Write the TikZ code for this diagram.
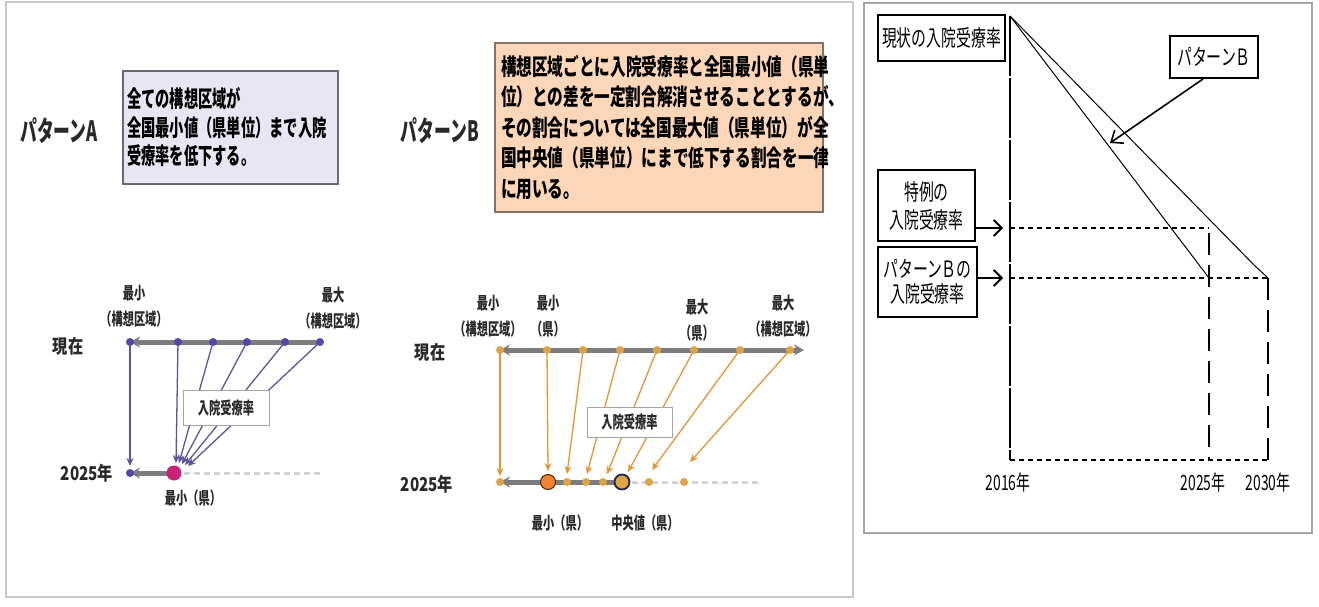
\documentclass[tikz,border=0pt]{standalone}
\usepackage{fontspec}
\newfontfamily\jpA[FakeStretch=0.62]{Noto Sans CJK JP}
\newfontfamily\jpB[FakeStretch=0.68]{Noto Sans CJK JP}
\newfontfamily\jpL[FakeStretch=0.66]{Noto Sans CJK JP}
\newfontfamily\jpT[FakeStretch=0.6]{Noto Sans CJK JP}
\newfontfamily\jpR[FakeStretch=0.66]{Noto Sans CJK JP}
\newfontfamily\jpS[FakeStretch=0.8]{Noto Sans CJK JP}
\newfontfamily\jpN{Noto Sans CJK JP}
\usetikzlibrary{arrows.meta}
\definecolor{boxAfill}{RGB}{232,230,242}
\definecolor{boxAdraw}{RGB}{105,105,115}
\definecolor{boxBfill}{RGB}{252,214,184}
\definecolor{boxBdraw}{RGB}{130,115,100}
\definecolor{barg}{RGB}{125,125,125}
\definecolor{purp}{RGB}{95,85,150}
\definecolor{purpdot}{RGB}{85,70,170}
\definecolor{mag}{RGB}{200,35,120}
\definecolor{orng}{RGB}{228,150,55}
\definecolor{orngdot}{RGB}{220,165,70}
\definecolor{orngbig}{RGB}{240,130,50}
\definecolor{navy}{RGB}{35,35,85}
\definecolor{txtg}{RGB}{40,40,40}
\definecolor{panelg}{RGB}{200,200,200}
\definecolor{panelr}{RGB}{165,165,165}
\definecolor{dashg}{RGB}{212,212,212}
\tikzset{
  lbl/.style={font=\jpL\bfseries\fontsize{17}{26}\selectfont, text=txtg, inner sep=0pt, align=center},
  side/.style={font=\jpS\bfseries\fontsize{19}{20}\selectfont, text=txtg, inner sep=0pt},
  title/.style={font=\jpT\bfseries\fontsize{28}{30}\selectfont, text=txtg, inner sep=0pt},
  bar/.style={draw=barg, line width=5pt},
  futdash/.style={draw=dashg, line width=3pt, dash pattern=on 6pt off 4pt},
  arrA/.style={draw=purp, line width=1.3pt, -{Stealth[length=8pt,width=7pt]}},
  arrB/.style={draw=orng, line width=1.3pt, -{Stealth[length=8pt,width=7pt]}},
  dotA/.style={circle, fill=purpdot, minimum size=8pt, inner sep=0pt},
  dotB/.style={circle, fill=orngdot, minimum size=8pt, inner sep=0pt},
  ratebox/.style={draw=barg!70, fill=white, line width=1pt, font=\jpL\bfseries\fontsize{17}{18}\selectfont, text=txtg, inner sep=0pt},
  rbox/.style={draw=black, line width=1.3pt, fill=white, font=\jpR\fontsize{22.5}{28}\selectfont, inner sep=0pt, align=center},
  rtxt/.style={font=\jpR\fontsize{21}{24}\selectfont, inner sep=0pt},
  hdash/.style={draw=black, line width=1.4pt, dash pattern=on 5pt off 4pt},
  vdash/.style={draw=black, line width=1.3pt, dash pattern=on 22pt off 10pt},
  barb/.style={draw=black, line width=1.8pt, -{Straight Barb[length=8pt,width=16pt]}},
}
\begin{document}
\begin{tikzpicture}[x=1pt,y=-1pt]
\useasboundingbox (0,0) rectangle (1319,607);
\fill[white] (0,0) rectangle (1319,607);
% ---------------- left panel frame
\draw[panelg, line width=1.5pt] (6,2) rectangle (853,597);
% titles and description boxes
\node[title] (tA) at (59,131) {パターンA};
\node[title] (tB) at (440,131) {パターンB};
\node[draw=boxAdraw, fill=boxAfill, line width=1.5pt, minimum width=215pt, minimum height=113pt,
      text width=207pt, align=left, inner sep=0pt, text=black,
      font=\jpA\bfseries\fontsize{23}{28.5}\selectfont] (boxA) at (230.5,127.5)
  {全ての構想区域が\\全国最小値（県単位）まで入院\\受療率を低下する。};
\node[draw=boxBdraw, fill=boxBfill, line width=1.5pt, minimum width=328pt, minimum height=169pt,
      text width=316pt, align=left, inner sep=0pt, text=black,
      font=\jpB\bfseries\fontsize{23}{30.5}\selectfont] (boxB) at (659,127.5)
  {構想区域ごとに入院受療率と全国最小値（県単\\位）との差を一定割合解消させることとするが、\\その割合については全国最大値（県単位）が全\\国中央値（県単位）にまで低下する割合を一律\\に用いる。};
% ---------------- diagram A
\coordinate (pa0) at (130,342);
\coordinate (pa1) at (178,342);
\coordinate (pa2) at (213,342);
\coordinate (pa3) at (247,342);
\coordinate (pa4) at (285,342);
\coordinate (pa5) at (320,342);
\coordinate (qa0) at (130,473);
\coordinate (qa1) at (174,473);
\coordinate (qaEnd) at (320,473);
\coordinate (ea0) at (130,466);
\coordinate (ea1) at (176,463);
\coordinate (ea2) at (179,463);
\coordinate (ea3) at (182,464);
\coordinate (ea4) at (185,465);
\coordinate (ea5) at (188,466);
\draw[futdash] (qa1) -- (qaEnd);
\draw[bar, {Stealth[length=10pt,width=11pt]}-] (pa0) -- (pa5);
\draw[bar, {Stealth[length=10pt,width=11pt]}-] (qa0) -- (qa1);
\draw[arrA] (pa0) -- (ea0);
\draw[arrA] (pa1) -- (ea1);
\draw[arrA] (pa2) -- (ea2);
\draw[arrA] (pa3) -- (ea3);
\draw[arrA] (pa4) -- (ea4);
\draw[arrA] (pa5) -- (ea5);
\node[ratebox, minimum width=86pt, minimum height=35pt] (rateA) at (226,407.5) {入院受療率};
\foreach \p in {pa0,pa1,pa2,pa3,pa4,pa5,qa0} \node[dotA] (d\p) at (\p) {};
\node[circle, fill=mag, minimum size=15pt, inner sep=0pt] (bigA) at (qa1) {};
\node[lbl] (lAmin) at (134,306) {最小\\（構想区域）};
\node[lbl] (lAmax) at (333,308) {最大\\（構想区域）};
\node[side] (nowA) at (68,346) {現在};
\node[side] (yA) at (87,473) {2025年};
\node[lbl] (lAken) at (193,498) {最小（県）};
% ---------------- diagram B
\coordinate (pb0) at (500,350);
\coordinate (pb1) at (547,350);
\coordinate (pb2) at (583,350);
\coordinate (pb3) at (620,350);
\coordinate (pb4) at (657,350);
\coordinate (pb5) at (694,350);
\coordinate (pb6) at (740,350);
\coordinate (pb7) at (790,350);
\coordinate (pbR) at (804,350);
\coordinate (qb0) at (500,482);
\coordinate (qb1) at (548,482);
\coordinate (qb2) at (567,482);
\coordinate (qb3) at (586,482);
\coordinate (qb4) at (603,482);
\coordinate (qb5) at (622,482);
\coordinate (qb6) at (649,482);
\coordinate (qb7) at (684,482);
\coordinate (qbEnd) at (762,482);
\coordinate (eb0) at (500,476);
\coordinate (eb1) at (548,471);
\coordinate (eb2) at (567,474);
\coordinate (eb3) at (587,474);
\coordinate (eb4) at (607,474);
\coordinate (eb5) at (628,472);
\coordinate (eb6) at (652,470);
\coordinate (eb7) at (690,462);
\draw[futdash] (qb5) -- (qbEnd);
\draw[bar, {Stealth[length=10pt,width=11pt]}-{Stealth[length=10pt,width=11pt]}] (pb0) -- (pbR);
\draw[bar, {Stealth[length=10pt,width=11pt]}-] (qb0) -- (qb5);
\draw[arrB] (pb0) -- (eb0);
\draw[arrB] (pb1) -- (eb1);
\draw[arrB] (pb2) -- (eb2);
\draw[arrB] (pb3) -- (eb3);
\draw[arrB] (pb4) -- (eb4);
\draw[arrB] (pb5) -- (eb5);
\draw[arrB] (pb6) -- (eb6);
\draw[arrB] (pb7) -- (eb7);
\node[ratebox, minimum width=85pt, minimum height=30pt] (rateB) at (629.5,422) {入院受療率};
\foreach \p in {pb0,pb1,pb2,pb3,pb4,pb5,pb6,pb7,qb0,qb2,qb3,qb4,qb6,qb7} \node[dotB] (d\p) at (\p) {};
\node[circle, fill=orngbig, draw=black!70!orange, line width=1pt, minimum size=15pt, inner sep=0pt] (minB) at (qb1) {};
\node[circle, fill=orngdot, draw=navy, line width=1.8pt, minimum size=15pt, inner sep=0pt] (medB) at (qb5) {};
\node[lbl] (lBmin) at (488,316) {最小\\（構想区域）};
\node[lbl] (lBminK) at (548,316) {最小\\（県）};
\node[lbl] (lBmaxK) at (697,320) {最大\\（県）};
\node[lbl] (lBmax) at (783,316) {最大\\（構想区域）};
\node[side] (nowB) at (430,352) {現在};
\node[side] (yB) at (427,484) {2025年};
\node[lbl] (lBken) at (560,523) {最小（県）};
\node[lbl] (lBmed) at (645,523) {中央値（県）};
% ---------------- right panel
\draw[panelr, line width=1.5pt] (864,3) rectangle (1312,533);
\coordinate (top) at (1010,16);
\coordinate (o) at (1010,460);
\coordinate (t25) at (1209,460);
\coordinate (t30) at (1268,460);
\coordinate (s0) at (1010,228);
\coordinate (s1) at (1209,228);
\coordinate (b0) at (1010,278);
\coordinate (b1) at (1209,278);
\coordinate (b2) at (1268,278);
\coordinate (bend) at (1254,265);
\coordinate (v25) at (1209,233);
\draw[black, line width=1.3pt, dash pattern=on 60pt off 2pt] (top) -- (o);
\draw[hdash] (o) -- (t30);
\draw[hdash] (s0) -- (s1);
\draw[hdash] (b0) -- (b2);
\draw[vdash] (v25) -- (t25);
\draw[vdash] (b2) -- (t30);
\draw[black, line width=1pt] (top) -- (b1);
\draw[black, line width=1pt] (top) -- (bend) -- (b2);
\node[rbox, minimum width=127pt, minimum height=46pt] (cur) at (941.5,38) {現状の入院受療率};
\node[rbox, minimum width=88pt, minimum height=42pt] (patB) at (1214,57) {パターンＢ};
\node[rbox, minimum width=97pt, minimum height=71pt] (tok) at (926.5,205.5) {特例の\\入院受療率};
\node[rbox, minimum width=99pt, minimum height=70pt, font=\jpR\fontsize{22.5}{25.5}\selectfont] (pbr) at (927.5,282) {パターンＢの\\入院受療率};
\coordinate (pbStart) at (1203,79);
\coordinate (pbTip) at (1110,143);
\coordinate (tokTip) at (1003,228);
\coordinate (pbrTip) at (1003,278);
\draw[barb, line width=1.6pt, -{Straight Barb[length=10pt,width=16pt]}] (pbStart) -- (pbTip);
\draw[barb] (tok.east |- tokTip) -- (tokTip);
\draw[barb] (pbr.east |- pbrTip) -- (pbrTip);
\node[rtxt] (y16) at (1008,482) {2016年};
\node[rtxt] (y25) at (1203,482) {2025年};
\node[rtxt] (y30) at (1268,482) {2030年};
\end{tikzpicture}
\end{document}
